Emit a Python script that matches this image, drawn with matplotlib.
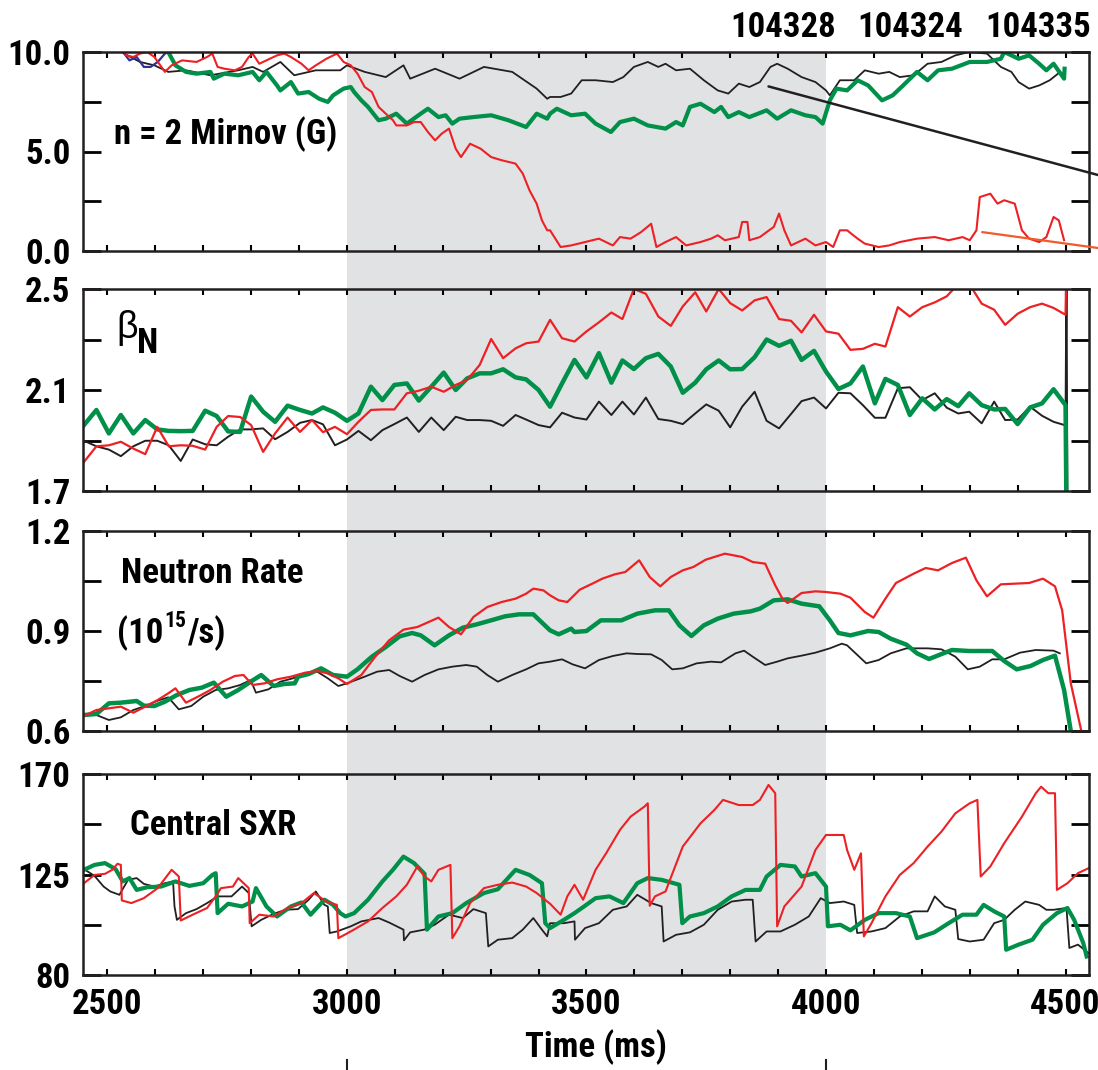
"""Four stacked time traces (Mirnov, beta_N, neutron rate, central SXR) for three shots."""

import matplotlib.pyplot as plt
from matplotlib import font_manager as fm
from matplotlib.lines import Line2D
from matplotlib.patches import Rectangle
from matplotlib.transforms import blended_transform_factory

W, H = 1098, 1070

BLACK = "#231f20"
RED = "#ed2024"
GREEN = "#00904a"
BLUE = "#2e3192"
SHADE = "#e1e2e4"
ORANGE = "#f15a29"

SHOTS = ["104328", "104324", "104335"]

# ---- n = 2 Mirnov (G) ----
mir_black_t = [2520, 2535, 2568, 2598, 2627, 2664, 2715, 2773, 2803, 2825, 2861,
               2890, 2935, 2986, 3000, 3037, 3081, 3118, 3132, 3184, 3235,
               3286, 3345, 3396, 3418, 3424, 3446, 3468, 3490, 3519, 3555,
               3577, 3599, 3628, 3650, 3665, 3687, 3716, 3745, 3774, 3796,
               3818, 3840, 3862, 3884, 3898, 3920, 3949, 3978, 4000, 4008,
               4029, 4059, 4081, 4110, 4132, 4154, 4183, 4212, 4241, 4270,
               4299, 4336, 4365, 4387, 4402, 4424, 4445, 4467, 4489]
mir_black_v = [10.3, 9.92, 9.50, 9.33, 9.00, 9.08, 8.83, 9.08, 9.25, 9.00, 9.50,
               8.83, 9.08, 9.08, 9.33, 9.00, 8.74, 9.33, 8.66, 9.16, 8.66,
               9.25, 9.00, 8.16, 7.65, 7.74, 7.74, 7.91, 8.58, 8.58, 8.49,
               8.74, 9.25, 9.50, 9.25, 9.41, 9.08, 9.16, 8.58, 8.07, 7.91,
               8.41, 8.24, 8.49, 9.25, 9.41, 9.16, 8.74, 8.49, 8.07, 7.82,
               8.58, 8.58, 9.08, 8.91, 9.00, 8.74, 8.83, 9.41, 9.50, 9.83,
               10.0, 9.92, 9.25, 9.00, 8.49, 8.16, 8.32, 8.58, 9.00]

mir_green_t = [2620, 2627, 2642, 2664, 2686, 2715, 2722, 2744, 2773, 2803, 2817,
               2832, 2854, 2861, 2883, 2898, 2920, 2942, 2960, 2971, 2993,
               3008, 3015, 3030, 3044, 3066, 3081, 3103, 3125, 3154, 3169,
               3191, 3206, 3220, 3235, 3264, 3301, 3337, 3374, 3396, 3418,
               3424, 3438, 3468, 3497, 3519, 3551, 3570, 3599, 3628, 3665, 3687,
               3701, 3716, 3738, 3767, 3781, 3796, 3818, 3840, 3876, 3898,
               3927, 3957, 3978, 3993, 4008, 4022, 4044, 4066, 4088, 4117,
               4139, 4161, 4190, 4212, 4234, 4263, 4300, 4336, 4365, 4372,
               4402, 4424, 4445, 4460, 4475, 4497, 4498]
mir_green_v = [10.3, 10.0, 9.33, 9.00, 8.91, 9.00, 8.66, 8.91, 8.83, 9.00, 8.58,
               9.00, 8.32, 8.07, 8.49, 7.91, 7.99, 7.65, 7.49, 7.82, 8.16,
               8.24, 7.99, 7.57, 7.24, 6.57, 6.65, 6.90, 6.40, 6.90, 7.15,
               6.73, 6.82, 6.40, 6.65, 6.73, 6.82, 6.57, 6.23, 6.90, 6.65,
               6.90, 7.15, 6.82, 6.90, 6.40, 5.98, 6.48, 6.65, 6.31, 6.15, 6.48,
               6.31, 7.24, 7.40, 6.98, 7.24, 6.73, 6.98, 6.73, 7.07, 6.65,
               7.07, 6.82, 6.73, 6.40, 7.57, 8.16, 8.07, 8.58, 8.32, 7.57,
               7.82, 8.32, 9.00, 8.58, 9.08, 9.16, 9.50, 9.50, 9.66, 10.0,
               9.66, 9.83, 9.41, 9.08, 9.41, 8.66, 9.16]

mir_red_t = [2499, 2532, 2539, 2554, 2568, 2583, 2598, 2620, 2634, 2656,
             2686, 2708, 2719, 2730, 2744, 2766, 2781, 2795, 2803, 2817,
             2832, 2854, 2869, 2883, 2905, 2920, 2935, 2957, 2979, 2993,
             3008, 3022, 3037, 3052, 3066, 3081, 3096, 3103, 3125, 3140,
             3154, 3169, 3184, 3198, 3213, 3227, 3238, 3257, 3279, 3301,
             3323, 3352, 3367, 3381, 3396, 3407, 3418, 3424, 3446, 3468,
             3497, 3526, 3555, 3570, 3592, 3614, 3635, 3646, 3665, 3687,
             3708, 3738, 3760, 3774, 3789, 3818, 3825, 3836, 3840, 3862,
             3876, 3891, 3902, 3913, 3927, 3957, 3978, 4000, 4015, 4029,
             4044, 4066, 4081, 4110, 4132, 4154, 4190, 4227, 4256, 4285,
             4300, 4314, 4321, 4343, 4358, 4372, 4394, 4409, 4424, 4445,
             4460, 4475, 4486, 4497]
mir_red_v = [10.0, 10.08, 9.83, 9.75, 9.92, 10.0, 9.75, 9.00, 9.33, 9.58,
             9.50, 9.75, 9.92, 9.25, 9.16, 9.08, 9.25, 9.75, 9.92, 9.41,
             9.58, 9.83, 9.92, 9.75, 9.41, 9.08, 9.33, 9.66, 9.92, 9.50,
             9.33, 8.91, 8.24, 7.99, 7.24, 6.90, 6.57, 6.31, 6.31, 6.48,
             6.48, 5.98, 5.56, 5.90, 6.15, 5.14, 4.72, 5.39, 5.14, 4.72,
             4.56, 4.39, 3.89, 3.05, 2.38, 1.54, 1.04, 1.04, 0.20, 0.28,
             0.45, 0.62, 0.28, 0.70, 0.62, 0.95, 1.37, 0.20, 0.45, 0.70,
             0.28, 0.45, 0.62, 0.79, 0.54, 0.70, 1.46, 1.46, 0.54, 0.70,
             0.95, 1.21, 1.88, 1.04, 0.28, 0.62, 0.28, 0.45, 0.20, 1.04,
             1.04, 0.62, 0.37, 0.20, 0.28, 0.45, 0.62, 0.70, 0.54, 0.70,
             0.54, 1.04, 2.71, 2.88, 2.38, 2.55, 2.38, 1.04, 0.62, 0.45,
             0.70, 1.71, 1.54, 0.54]

mir_blue_t = [2528, 2535, 2546, 2561, 2576, 2590, 2605, 2620, 2627]
mir_blue_v = [10.2, 9.92, 9.58, 9.75, 9.25, 9.25, 9.50, 9.92, 10.0]

# ---- beta_N ----
beta_t = [2451, 2477, 2503, 2528, 2554, 2579, 2604, 2628, 2653, 2678,
          2704, 2728, 2752, 2777, 2800, 2825, 2850, 2876, 2902, 2927,
          2950, 2975, 3000, 3024, 3050, 3074, 3099, 3125, 3150, 3176,
          3202, 3227, 3251, 3277, 3301, 3326, 3352, 3374, 3400, 3424,
          3449, 3475, 3500, 3526, 3552, 3575, 3599, 3624, 3650, 3676,
          3701, 3727, 3750, 3776, 3800, 3825, 3851, 3876, 3902, 3927,
          3949, 3975, 4000, 4026, 4051, 4077, 4102, 4124, 4150, 4175,
          4201, 4227, 4252, 4276, 4299, 4325, 4351, 4374, 4400, 4426,
          4451, 4475, 4500, 4502]
beta_green = [1.961, 2.021, 1.928, 2.001, 1.928, 1.981, 1.944, 1.938, 1.937, 1.938,
              2.018, 1.997, 1.936, 1.934, 2.074, 2.014, 1.974, 2.038, 2.021, 2.007,
              2.031, 2.010, 1.978, 2.007, 2.113, 2.060, 2.120, 2.126, 2.058, 2.113,
              2.169, 2.100, 2.146, 2.166, 2.166, 2.182, 2.150, 2.142, 2.100, 2.034,
              2.126, 2.219, 2.150, 2.246, 2.129, 2.217, 2.183, 2.226, 2.243, 2.193,
              2.089, 2.129, 2.182, 2.217, 2.182, 2.183, 2.230, 2.300, 2.275, 2.295,
              2.219, 2.255, 2.173, 2.104, 2.126, 2.193, 2.047, 2.144, 2.120, 2.001,
              2.067, 2.023, 2.064, 2.036, 2.087, 2.040, 2.023, 2.025, 1.965, 2.031,
              2.047, 2.103, 2.040, 1.60]
beta_red = [1.815, 1.877, 1.881, 1.895, 1.868, 1.846, 1.954, 1.877, 1.881, 1.879,
            1.864, 1.954, 1.997, 1.993, 1.961, 1.855, 1.928, 1.991, 1.934, 1.981,
            1.933, 1.954, 1.925, 1.974, 2.021, 2.023, 2.023, 2.087, 2.097, 2.113,
            2.093, 2.120, 2.140, 2.199, 2.302, 2.226, 2.265, 2.285, 2.292, 2.378,
            2.305, 2.292, 2.332, 2.368, 2.407, 2.381, 2.500, 2.481, 2.391, 2.354,
            2.431, 2.487, 2.411, 2.500, 2.444, 2.415, 2.455, 2.468, 2.381, 2.374,
            2.328, 2.398, 2.332, 2.323, 2.259, 2.263, 2.283, 2.272, 2.428, 2.391,
            2.428, 2.447, 2.471, 2.520, 2.520, 2.442, 2.418, 2.358, 2.402, 2.428,
            2.442, 2.425, 2.398, 2.60]
beta_black = [1.899, 1.877, 1.864, 1.838, 1.877, 1.899, 1.899, 1.881, 1.819, 1.904,
              1.885, 1.881, 1.915, 1.944, 1.944, 1.948, 1.905, 1.934, 1.970, 1.981,
              1.964, 1.881, 1.904, 1.938, 1.901, 1.941, 1.965, 1.991, 1.934, 1.991,
              1.941, 1.994, 1.981, 1.981, 1.978, 1.958, 2.001, 1.983, 1.961, 1.952,
              2.010, 1.991, 1.983, 2.054, 2.001, 2.054, 2.003, 2.070, 1.985, 1.978,
              1.965, 2.007, 2.043, 2.018, 1.952, 2.034, 2.093, 1.978, 1.948, 2.005,
              2.056, 2.070, 2.027, 2.089, 2.087, 2.040, 1.990, 1.990, 2.107, 2.111,
              2.060, 2.087, 2.030, 2.007, 2.014, 1.968, 2.054, 1.981, 1.983, 2.034,
              1.998, 1.974, 1.960, 2.60]
beta_black_tail_t = [4504]
beta_black_tail_v = [1.60]

# ---- Neutron rate (10^15/s) ----
neu_black_t = [2451, 2477, 2503, 2528, 2554, 2579, 2605, 2627, 2649, 2675,
               2700, 2726, 2752, 2777, 2799, 2810, 2836, 2861, 2887, 2913,
               2938, 2960, 2982, 3000, 3037, 3063, 3088, 3110, 3136, 3162,
               3191, 3220, 3249, 3271, 3293, 3315, 3345, 3374, 3400, 3424,
               3449, 3471, 3497, 3526, 3555, 3584, 3606, 3635, 3657, 3679,
               3701, 3730, 3760, 3781, 3811, 3829, 3847, 3873, 3898, 3920,
               3949, 3978, 4008, 4033, 4044, 4084, 4110, 4135, 4168, 4212,
               4241, 4270, 4296, 4321, 4347, 4372, 4405, 4438, 4475, 4488]
neu_black_v = [0.651, 0.648, 0.633, 0.641, 0.663, 0.675, 0.691, 0.701, 0.665, 0.675,
               0.703, 0.723, 0.728, 0.738, 0.753, 0.715, 0.725, 0.748, 0.758, 0.773,
               0.778, 0.758, 0.735, 0.743, 0.763, 0.778, 0.783, 0.765, 0.748, 0.768,
               0.785, 0.793, 0.798, 0.793, 0.768, 0.748, 0.768, 0.785, 0.803, 0.808,
               0.815, 0.800, 0.788, 0.813, 0.825, 0.833, 0.831, 0.830, 0.813, 0.785,
               0.788, 0.803, 0.808, 0.806, 0.833, 0.841, 0.823, 0.798, 0.808, 0.818,
               0.826, 0.835, 0.848, 0.862, 0.857, 0.803, 0.813, 0.833, 0.848, 0.848,
               0.845, 0.823, 0.785, 0.793, 0.815, 0.815, 0.835, 0.843, 0.841, 0.833]

neu_red_t = [2451, 2477, 2503, 2528, 2554, 2579, 2605, 2627, 2642, 2664,
             2689, 2715, 2741, 2766, 2784, 2803, 2828, 2854, 2883, 2913,
             2938, 2960, 2982, 3000, 3030, 3059, 3088, 3118, 3147, 3191,
             3213, 3238, 3264, 3293, 3323, 3352, 3374, 3389, 3410, 3424,
             3442, 3460, 3486, 3515, 3533, 3559, 3581, 3610, 3632, 3654,
             3676, 3701, 3723, 3749, 3789, 3825, 3847, 3873, 3894, 3909,
             3920, 3949, 3978, 4000, 4030, 4051, 4081, 4099, 4124, 4146,
             4183, 4208, 4234, 4263, 4292, 4314, 4336, 4365, 4394, 4424,
             4453, 4478, 4493, 4511, 4533, 4545]
neu_red_v = [0.645, 0.663, 0.668, 0.673, 0.655, 0.673, 0.693, 0.713, 0.728, 0.685,
             0.703, 0.723, 0.748, 0.765, 0.768, 0.738, 0.743, 0.755, 0.763, 0.775,
             0.780, 0.773, 0.758, 0.741, 0.768, 0.823, 0.872, 0.904, 0.912, 0.940,
             0.912, 0.890, 0.942, 0.972, 0.987, 0.997, 1.012, 1.027, 1.022, 1.007,
             0.992, 0.987, 1.024, 1.044, 1.057, 1.070, 1.077, 1.112, 1.062, 1.034,
             1.062, 1.082, 1.092, 1.114, 1.132, 1.122, 1.107, 1.102, 1.037, 0.997,
             0.984, 1.014, 1.019, 1.017, 1.012, 1.000, 0.957, 0.940, 0.997, 1.044,
             1.072, 1.089, 1.082, 1.104, 1.120, 1.052, 1.004, 1.040, 1.042, 1.044,
             1.057, 1.034, 0.962, 0.743, 0.600, 0.550]

neu_green_t = [2451, 2477, 2503, 2528, 2561, 2576, 2598, 2620, 2645, 2671,
               2697, 2722, 2748, 2773, 2799, 2821, 2847, 2869, 2891, 2898,
               2920, 2946, 2971, 3000, 3022, 3052, 3081, 3110, 3136, 3154,
               3183, 3213, 3242, 3271, 3301, 3330, 3359, 3389, 3424, 3442,
               3468, 3475, 3500, 3530, 3573, 3606, 3643, 3672, 3694, 3719,
               3745, 3774, 3807, 3843, 3862, 3891, 3920, 3949, 3986, 4008,
               4026, 4051, 4088, 4110, 4135, 4168, 4190, 4215, 4245, 4263,
               4299, 4347, 4372, 4398, 4427, 4453, 4478, 4497, 4511, 4518]
neu_green_v = [0.648, 0.651, 0.683, 0.685, 0.690, 0.676, 0.675, 0.688, 0.708, 0.723,
               0.730, 0.745, 0.703, 0.723, 0.748, 0.768, 0.735, 0.741, 0.743, 0.763,
               0.771, 0.788, 0.768, 0.763, 0.785, 0.823, 0.852, 0.884, 0.894, 0.887,
               0.857, 0.887, 0.910, 0.920, 0.932, 0.944, 0.950, 0.950, 0.902, 0.890,
               0.907, 0.897, 0.900, 0.932, 0.932, 0.952, 0.962, 0.962, 0.917, 0.885,
               0.917, 0.937, 0.952, 0.959, 0.967, 0.992, 0.995, 0.982, 0.974, 0.932,
               0.894, 0.887, 0.900, 0.897, 0.877, 0.859, 0.833, 0.816, 0.833, 0.843,
               0.840, 0.840, 0.810, 0.785, 0.795, 0.813, 0.826, 0.723, 0.600, 0.550]

# ---- Central SXR ----
sxr_black_t = [2451, 2473, 2492, 2506, 2525, 2543, 2561, 2576, 2598, 2620,
               2637, 2640, 2645, 2664, 2686, 2708, 2730, 2759, 2781, 2795,
               2801, 2821, 2847, 2872, 2898, 2920, 2935, 2953, 2960, 2964,
               2979, 3008, 3030, 3066, 3088, 3118, 3119, 3132, 3161, 3183,
               3213, 3242, 3264, 3290, 3295, 3315, 3345, 3367, 3389, 3407,
               3418, 3424, 3453, 3475, 3476, 3497, 3526, 3555, 3584, 3606,
               3635, 3657, 3661, 3687, 3716, 3745, 3774, 3803, 3832, 3847,
               3853, 3876, 3905, 3935, 3964, 3989, 4008, 4037, 4059, 4065,
               4095, 4124, 4154, 4183, 4212, 4227, 4248, 4270, 4276, 4300,
               4329, 4351, 4372, 4394, 4416, 4445, 4460, 4475, 4502, 4508,
               4526, 4548]
sxr_black_v = [127.4, 124.4, 119.6, 117.4, 115.9, 122.6, 123.4, 120.8, 119.6, 121.1,
               121.9, 110.7, 104.7, 107.7, 109.5, 112.2, 115.2, 115.2, 119.6, 116.7,
               101.8, 104.7, 107.4, 109.2, 109.5, 113.7, 117.4, 111.4, 110.7, 98.8,
               99.5, 101.8, 104.0, 105.5, 103.5, 100.3, 95.5, 99.1, 100.3, 102.5,
               107.0, 105.5, 109.5, 107.7, 92.8, 95.8, 96.5, 100.3, 105.5, 100.3,
               97.3, 103.2, 103.2, 104.0, 95.8, 101.0, 103.2, 109.2, 110.7, 115.9,
               112.2, 110.7, 95.0, 98.0, 99.1, 102.5, 109.2, 112.9, 113.7, 113.7,
               95.0, 99.5, 99.5, 102.5, 106.2, 114.4, 112.2, 112.9, 111.4, 98.8,
               99.5, 101.0, 106.2, 108.5, 108.5, 115.2, 110.7, 109.2, 96.1, 95.0,
               95.8, 103.2, 104.7, 109.2, 112.9, 111.4, 109.2, 109.2, 110.0, 92.1,
               93.6, 89.8]

sxr_red_t = [2451, 2473, 2495, 2510, 2521, 2528, 2530, 2550, 2576, 2605,
             2634, 2649, 2653, 2678, 2708, 2726, 2737, 2762, 2773, 2795,
             2797, 2817, 2847, 2876, 2905, 2931, 2957, 2979, 2982, 3008,
             3044, 3074, 3103, 3125, 3147, 3162, 3176, 3191, 3216, 3220,
             3235, 3257, 3286, 3315, 3345, 3374, 3396, 3424, 3446, 3460,
             3475, 3493, 3519, 3541, 3570, 3592, 3621, 3628, 3632, 3643,
             3665, 3701, 3738, 3767, 3785, 3818, 3847, 3862, 3880, 3894,
             3898, 3913, 3949, 3978, 4000, 4037, 4044, 4059, 4073, 4079,
             4095, 4124, 4154, 4183, 4212, 4241, 4270, 4300, 4316, 4323,
             4343, 4372, 4409, 4438, 4449, 4464, 4478, 4482, 4504, 4526,
             4548]
sxr_red_v = [121.1, 124.8, 125.3, 127.1, 129.8, 129.3, 113.4, 112.2, 114.4, 118.9,
             127.1, 124.1, 104.4, 107.0, 110.0, 115.2, 118.9, 119.6, 123.4, 118.9,
             103.2, 107.0, 106.2, 110.0, 112.2, 116.7, 112.9, 111.4, 96.5, 99.5,
             104.0, 110.0, 115.2, 120.4, 128.6, 124.1, 121.9, 127.1, 129.3, 96.5,
             101.8, 112.2, 118.9, 120.4, 121.4, 119.6, 116.7, 111.9, 107.0, 115.2,
             120.4, 113.7, 127.1, 134.5, 145.0, 150.9, 155.4, 156.9, 111.0, 115.2,
             117.4, 137.5, 147.9, 153.9, 158.4, 156.1, 156.1, 158.4, 165.1, 161.4,
             101.8, 110.7, 119.6, 136.0, 142.7, 142.7, 136.0, 127.1, 134.5, 97.3,
             103.2, 115.2, 124.8, 130.1, 137.5, 144.2, 152.4, 156.9, 158.4, 124.1,
             128.6, 139.0, 150.9, 161.4, 164.3, 161.4, 161.4, 118.1, 121.1, 125.6,
             127.8]

sxr_green_t = [2451, 2473, 2495, 2517, 2532, 2546, 2561, 2583, 2612, 2642,
               2671, 2700, 2719, 2726, 2730, 2752, 2781, 2803, 2810, 2832,
               2854, 2883, 2905, 2924, 2953, 2971, 2986, 2997, 3015, 3044,
               3074, 3096, 3118, 3140, 3162, 3167, 3191, 3220, 3249, 3286,
               3315, 3352, 3381, 3407, 3414, 3424, 3453, 3475, 3497, 3519,
               3548, 3577, 3606, 3628, 3657, 3694, 3700, 3716, 3745, 3774,
               3803, 3832, 3862, 3876, 3905, 3935, 3949, 3978, 4000, 4004,
               4030, 4051, 4081, 4110, 4146, 4175, 4190, 4226, 4256, 4285,
               4314, 4329, 4351, 4372, 4376, 4402, 4431, 4453, 4482, 4504,
               4518, 4537, 4544]
sxr_green_v = [127.1, 129.3, 130.1, 127.4, 121.9, 123.4, 118.1, 119.3, 119.6, 121.9,
               119.9, 121.1, 124.8, 125.6, 107.7, 111.9, 110.7, 112.9, 118.9, 110.7,
               106.2, 110.7, 112.5, 107.0, 113.7, 111.4, 107.7, 106.2, 107.7, 113.7,
               121.9, 127.1, 133.0, 130.1, 125.3, 100.3, 106.2, 107.7, 112.2, 116.7,
               118.4, 127.1, 124.8, 121.1, 103.2, 101.0, 104.7, 107.7, 111.0, 114.4,
               115.2, 112.2, 121.1, 123.4, 122.6, 120.4, 103.2, 106.2, 107.7, 110.7,
               115.2, 118.1, 118.1, 124.1, 129.3, 128.6, 124.1, 125.6, 119.6, 101.8,
               102.5, 100.0, 104.7, 107.7, 107.7, 106.2, 96.5, 99.1, 103.2, 107.0,
               107.0, 111.4, 108.5, 106.2, 91.3, 93.6, 95.8, 102.5, 107.7, 110.0,
               104.7, 94.3, 88.3]


def pick_font():
    """Pick a condensed bold sans if one is installed, else a plain one."""
    names = {f.name for f in fm.fontManager.ttflist}
    for fam, size in [("Roboto Condensed", 25), ("Liberation Sans Narrow", 25),
                      ("IBM Plex Sans Condensed", 24), ("PT Sans Narrow", 26),
                      ("Archivo Narrow", 25), ("Asap Condensed", 24)]:
        if fam in names:
            return fam, size
    return "Liberation Sans", 21


FONT, FS = pick_font()
plt.rcParams["font.family"] = [FONT, "DejaVu Sans"]
plt.rcParams["font.weight"] = "bold"


def px(x, y):
    """Pixel position in the 1098x1070 canvas -> figure fraction."""
    return x / W, 1 - y / H


def panel_rect(top, bottom, left=83, right=1089):
    return [left / W, 1 - bottom / H, (right - left) / W, (bottom - top) / H]


def style_axis(ax, ylim, yticks, ylabels, bottom=False):
    ax.set_facecolor("none")
    ax.set_xlim(2449, 4549)
    ax.set_ylim(*ylim)
    xt = list(range(2500, 4501, 100))
    ax.set_xticks(xt)
    ax.set_xticklabels([str(t) if t % 500 == 0 else "" for t in xt])
    ax.set_yticks(yticks)
    ax.set_yticklabels(ylabels)
    ax.tick_params(axis="x", direction="in", top=True, length=4, width=1.5,
                   labelbottom=bottom, labelsize=FS, pad=9)
    ax.tick_params(axis="y", direction="in", right=True, length=13, width=2,
                   labelsize=FS, pad=9)
    for spine in ax.spines.values():
        spine.set_linewidth(1.8)
        spine.set_color(BLACK)


fig = plt.figure(figsize=(W / 100, H / 100), dpi=100)

ax1 = fig.add_axes(panel_rect(52, 251))
ax2 = fig.add_axes(panel_rect(289, 491))
ax3 = fig.add_axes(panel_rect(531, 731))
ax4 = fig.add_axes(panel_rect(774, 975))

# Mirnov
ax1.plot(mir_black_t, mir_black_v, color=BLACK, lw=1.3)
ax1.plot(mir_blue_t, mir_blue_v, color=BLUE, lw=1.6)
ax1.plot(mir_green_t, mir_green_v, color=GREEN, lw=3.0)
ax1.plot(mir_red_t, mir_red_v, color=RED, lw=1.5)
style_axis(ax1, (0, 10), [0, 2.5, 5, 7.5, 10], ["0.0", "", "5.0", "", "10.0"])

# beta_N
ax2.plot(beta_t + beta_black_tail_t, beta_black + beta_black_tail_v, color=BLACK, lw=1.4)
ax2.plot(beta_t, beta_green, color=GREEN, lw=3.2)
ax2.plot(beta_t, beta_red, color=RED, lw=1.6)
style_axis(ax2, (1.7, 2.5), [1.7, 1.9, 2.1, 2.3, 2.5], ["1.7", "", "2.1", "", "2.5"])

# neutron rate
ax3.plot(neu_black_t, neu_black_v, color=BLACK, lw=1.3)
ax3.plot(neu_green_t, neu_green_v, color=GREEN, lw=3.2)
ax3.plot(neu_red_t, neu_red_v, color=RED, lw=1.6)
style_axis(ax3, (0.6, 1.2), [0.6, 0.75, 0.9, 1.05, 1.2], ["0.6", "", "0.9", "", "1.2"])

# central SXR
ax4.plot(sxr_black_t, sxr_black_v, color=BLACK, lw=1.3)
ax4.plot(sxr_green_t, sxr_green_v, color=GREEN, lw=3.0)
ax4.plot(sxr_red_t, sxr_red_v, color=RED, lw=1.5)
style_axis(ax4, (80, 170), [80, 102.5, 125, 147.5, 170], ["80", "", "125", "", "170"],
           bottom=True)

# shaded window 3000-4000 ms running through all panels
blend = blended_transform_factory(ax4.transData, fig.transFigure)
fig.add_artist(Rectangle((3000, 1 - 975 / H), 1000, (975 - 52) / H, transform=blend,
                         facecolor=SHADE, edgecolor="none", zorder=-1))
for t in (3000, 4000):
    fig.add_artist(Line2D([t, t], [1 - 1060 / H, 1 - 1070 / H], transform=blend,
                          color=BLACK, lw=1.5))

# shot labels and leader lines
for x, shot in zip([783, 910, 1038], SHOTS):
    fig.text(*px(x, 37), shot, ha="center", va="baseline", fontsize=FS)
ax1.annotate("", xy=(3880, 8.27), xytext=px(1098, 175), textcoords="figure fraction",
             arrowprops=dict(arrowstyle="-", color=BLACK, lw=1.8, shrinkA=0, shrinkB=0),
             annotation_clip=False)
ax1.annotate("", xy=(4326, 0.95), xytext=px(1098, 248), textcoords="figure fraction",
             arrowprops=dict(arrowstyle="-", color=ORANGE, lw=1.6, shrinkA=0, shrinkB=0),
             annotation_clip=False)

# panel labels
fig.text(*px(114, 144), "n = 2 Mirnov (G)", ha="left", va="baseline", fontsize=FS)
fig.text(*px(116, 338), "β", ha="left", va="baseline", fontsize=FS + 2, fontweight="normal",
         family=["Liberation Sans", "DejaVu Sans"])
fig.text(*px(137, 353), "N", ha="left", va="baseline", fontsize=FS)
fig.text(*px(121, 583), "Neutron Rate", ha="left", va="baseline", fontsize=FS)
fig.text(*px(130, 835), "Central SXR", ha="left", va="baseline", fontsize=FS)
fig.text(*px(596, 1057), "Time (ms)", ha="center", va="baseline", fontsize=FS)

# "(10^15/s)" built from three pieces so the exponent sits raised
renderer = fig.canvas.get_renderer()
part1 = fig.text(*px(117, 643), "(10", ha="left", va="baseline", fontsize=FS)
x1 = part1.get_window_extent(renderer).x1
part2 = fig.text(x1 / W + 1 / W, 1 - 627 / H, "15", ha="left", va="baseline",
                 fontsize=FS * 0.62)
x2 = part2.get_window_extent(renderer).x1
fig.text(x2 / W + 1 / W, 1 - 643 / H, "/s)", ha="left", va="baseline", fontsize=FS)

fig.savefig("out.png", dpi=100)
